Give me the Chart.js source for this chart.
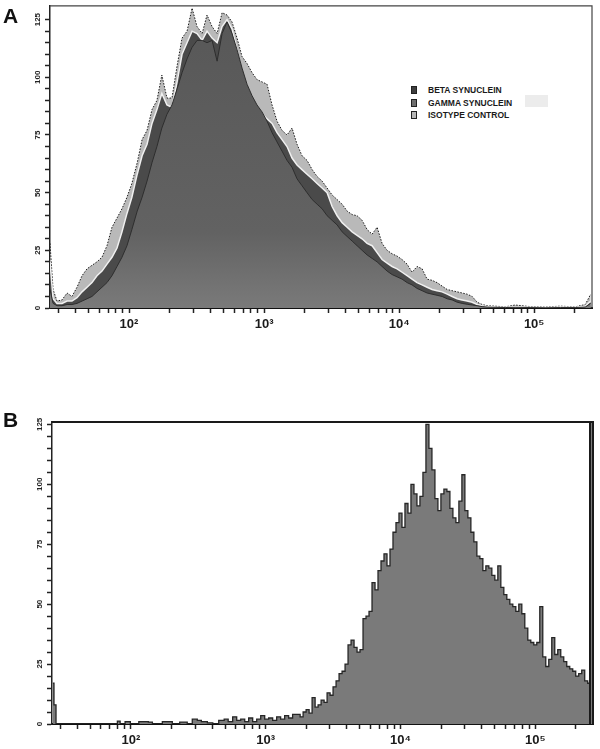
<!DOCTYPE html>
<html lang="en">
<head>
<meta charset="UTF-8">
<title>Synuclein flow cytometry histograms</title>
<style>
  body { margin: 0; background: #fff; font-family: Arial, 'Liberation Sans', sans-serif; }
  .figure { position: relative; width: 600px; height: 749px; overflow: hidden; }
  .figure canvas { position: absolute; left: 0; }
  .letter { position: absolute; left: 3px; font-size: 21px; font-weight: bold; color: #111; line-height: 1; }
  .legend { position: absolute; left: 408px; top: 84px; width: 115px; background: #fff; }
  .legend div { height: 12.5px; line-height: 12.5px; font-size: 8.5px; font-weight: bold; color: #1a1a1a; white-space: nowrap; }
  .legend span { display: inline-block; width: 6px; height: 8px; border: 1px solid #222; margin: 0 11px 0 3px; vertical-align: -1px; box-sizing: border-box; }
  .smudge { position: absolute; left: 525px; top: 95px; width: 23px; height: 12px; background: #ececec; }
</style>
</head>
<body>
<div class="figure">
  <canvas id="chartA" width="600" height="345" style="top:0"></canvas>
  <canvas id="chartB" width="600" height="369" style="top:380px"></canvas>
  <div class="letter" style="top:5px">A</div>
  <div class="letter" style="top:409px">B</div>
  <div class="smudge"></div>
  <div class="legend" id="legendA"></div>
</div>

<script src="https://cdn.jsdelivr.net/npm/chart.js"></script>
<script>
// ---- panel A: three overlaid histograms, shared log-spaced bins ----
const fluorA = [26.0, 27.4, 29.3, 31.9, 34.8, 37.8, 41.2, 44.9, 48.9, 53.2, 57.9, 63.1, 68.7, 74.8, 81.5, 88.7, 96.6,
  105, 115, 125, 136, 148, 161, 175, 191, 208, 227, 247, 269, 293, 319, 348, 378, 412, 449, 489, 532, 579, 631, 687,
  748, 815, 887, 966, 1052, 1146, 1247, 1358, 1479, 1611, 1754, 1910, 2080, 2270, 2470, 2690, 2930, 3190, 3475, 3785,
  4120, 4490, 4885, 5320, 5795, 6310, 6870, 7480, 8150, 8870, 9660, 10520, 11460, 12470, 13580, 14790, 16110, 17540,
  19100, 20800, 22700, 24700, 26900, 29300, 31900, 34750, 37840, 41210, 44870, 51400, 61000, 72300, 93300, 120500,
  156000, 201000, 239000, 262000];
const betaA = [8, 2, 1, 1, 1.5, 1.5, 2, 3, 4, 5, 7, 9, 11, 14, 18, 22, 27,
  34, 42, 48, 55, 63, 70, 78, 84, 88, 95, 102, 108, 113, 116, 116, 115, 116, 107, 119, 124, 119, 112, 104,
  97, 92, 88, 85, 81, 76, 72, 68, 64, 61, 56, 53, 50, 47, 45, 43, 40, 38, 36, 33,
  31, 29, 27, 25, 23, 21.5, 20, 18, 16, 14.5, 13.5, 12.5, 11, 10, 8.5, 7.5, 6.5, 6,
  5.5, 5, 4, 3.5, 2.5, 2, 1.6, 1.3, 1, 0.6, 0.4, 0.3, 0.2, 0.3, 0.2, 0.1,
  0.2, 0.2, 0.4, 2];
const gammaA = [20, 4, 2, 2, 3, 3, 4.5, 7, 9, 11, 14, 16, 19, 22, 26, 33, 41,
  48, 58, 66, 71, 80, 86, 93, 88, 87, 98, 110, 115, 120, 119, 116, 120, 117, 115, 122, 125, 121, 112, 102,
  96, 91, 87, 84, 82, 80, 76, 73, 70, 65, 62, 60, 58, 56, 54, 52, 50, 44, 40, 37,
  35, 33, 31.5, 30, 28, 27, 24, 21, 19.5, 18, 17, 15.5, 14, 12.5, 11, 10, 9, 8,
  7.5, 7, 6, 5, 4, 3.5, 3, 2.5, 1.5, 1, 0.6, 0.4, 0.3, 0.5, 0.3, 0.2,
  0.4, 0.3, 0.8, 3];
const isotypeA = [28, 8, 3, 3.5, 6.5, 5, 9, 14, 17, 18.5, 20, 22, 27, 35, 39, 43, 48,
  54, 63, 73, 77, 86, 90, 101, 91, 91, 105, 117, 120, 130, 122, 119, 127, 122, 119, 128, 127, 124, 117, 109,
  106, 102, 99, 98, 97, 88, 81, 77, 75, 78, 71, 66, 64, 60, 57, 55, 52, 49, 47, 45,
  42, 40.5, 40, 38, 34, 32, 35, 28, 25, 23.5, 22.5, 21, 19, 15.5, 18, 17, 12.5, 12,
  11, 9.5, 8, 7.5, 7, 6.5, 6, 5, 2.5, 1.5, 1, 0.8, 0.5, 1.3, 0.6, 0.4,
  0.8, 0.5, 1.5, 6];
const legendNames = ['BETA SYNUCLEIN', 'GAMMA SYNUCLEIN', 'ISOTYPE CONTROL'];

// ---- panel B: single histogram ----
const fluorB = [26.4, 27.4, 28.3, 77.4, 81.5, 85, 96.6, 101.7, 129, 141, 148, 198, 208, 255, 269, 303, 319, 348, 392, 419,
  480, 505, 550, 589, 631, 676, 723, 774, 829, 888, 951, 1017, 1089, 1166, 1248, 1336, 1431, 1531, 1640,
  1756, 1848, 1945, 2047, 2154, 2268, 2387, 2512, 2644, 2783, 2929, 3082, 3244, 3415, 3594, 3783, 3981, 4190, 4410,
  4642, 4885, 5142, 5412, 5696, 5995, 6310, 6641, 6990, 7356, 7743, 8149, 8577, 9027, 9501,
  10000, 10525, 11078, 11659, 12271, 12915, 13594, 14307, 15058, 15849, 16681, 17557, 18478, 19448, 20469, 21544,
  22675, 23865, 25119, 26438, 27826, 29286, 30824, 32442, 34145, 35938, 37825, 39811, 41900, 44101, 46416, 48853,
  51419, 54117, 56958, 59948, 63096, 66408, 69895, 73564, 77426, 81492, 85770, 90273, 95013,
  100000, 105250, 110780, 116590, 122710, 129150, 135940, 143070, 150580, 158490, 166810, 175570, 184780, 194480,
  204690, 215440, 226750, 238650, 251190, 257000, 268000];
const countsB = [17, 8, 0, 0, 1.2, 0, 1, 0, 1, 0.8, 0, 1, 0, 0.8, 0, 2, 1.5, 1, 0.5, 0,
  1.5, 2, 1, 3, 1.5, 2, 1, 2.5, 1, 2, 3.5, 2, 2.5, 1.5, 3, 2, 3.5, 2.5, 4,
  4, 3, 5, 6, 4.5, 11, 7, 8, 10, 9, 13, 12, 15.5, 18, 21, 22, 25, 33, 35,
  32, 30, 31, 44, 45, 47, 59, 56, 64, 68, 71, 66, 73, 80, 84,
  88, 82, 92, 88, 100, 96, 91, 95, 105, 125, 115, 106, 94, 89, 96,
  98, 97, 90, 86, 84, 93, 104, 89, 86, 80, 76, 70, 69, 64, 66, 65,
  62, 60, 66, 57, 54, 52, 50, 49, 47, 50, 46, 40, 35, 34, 33,
  34, 49, 28, 24, 27, 36, 29, 31, 28, 26, 24, 23, 22, 20,
  21, 22.5, 18, 17, 126, 126];

const decades = [100, 1000, 10000, 100000];
const decadeText = ['10²', '10³', '10⁴', '10⁵'];
const countTicks = [0, 25, 50, 75, 100, 125];

const pts = (xs, ys) => xs.map((x, i) => ({ x: x, y: ys[i] }));

// minor log ticks 1..9 per decade
function logTicks(scale) {
  const out = [];
  for (const d of [10, 100, 1000, 10000, 100000]) {
    for (let k = 1; k <= 9; k++) {
      const v = k * d;
      if (v >= scale.min && v <= scale.max) out.push({ value: v });
    }
  }
  scale.ticks = out;
}

// count axis: labelled every 25, minor mark every 5
function countAxisTicks(scale) {
  const out = [];
  for (let v = 0; v <= countTicks[countTicks.length - 1]; v += 5) out.push({ value: v });
  scale.ticks = out;
}

// top / right frame lines
const frame = {
  id: 'frame',
  afterDatasetsDraw(chart, args, opts) {
    const { ctx, chartArea: a } = chart;
    ctx.save();
    ctx.strokeStyle = opts.color;
    ctx.lineWidth = opts.width;
    ctx.beginPath();
    ctx.moveTo(a.left, a.top);
    ctx.lineTo(a.right, a.top);
    ctx.lineTo(a.right, a.bottom);
    ctx.stroke();
    if (opts.double) {
      ctx.beginPath();
      ctx.moveTo(a.right - 3, a.top);
      ctx.lineTo(a.right - 3, a.bottom);
      ctx.stroke();
    }
    ctx.restore();
  }
};

function scales(yMax, yWidth, xHeight) {
  return {
    x: {
      type: 'logarithmic', min: 26, max: 268000,
      afterBuildTicks: logTicks,
      afterFit: s => { s.height = xHeight; },
      grid: { drawOnChartArea: false, tickLength: 5, tickWidth: 1.5, tickColor: '#222' },
      border: { color: '#111', width: 2 },
      ticks: {
        autoSkip: false, maxRotation: 0, padding: 4, color: '#1a1a1a',
        font: { family: 'Arial, "Liberation Sans", sans-serif', size: 13, weight: 'bold' },
        callback: v => { const i = decades.indexOf(v); return i < 0 ? '' : decadeText[i]; }
      }
    },
    y: {
      min: 0, max: yMax,
      afterBuildTicks: countAxisTicks,
      afterFit: s => { s.width = yWidth; },
      grid: { drawOnChartArea: false, tickLength: 5, tickWidth: 1.5, tickColor: '#222' },
      border: { color: '#222', width: 1.5 },
      ticks: {
        autoSkip: false, minRotation: 90, maxRotation: 90, crossAlign: 'center', padding: 1,
        color: '#222', font: { family: 'Arial, "Liberation Sans", sans-serif', size: 8, weight: 'bold' },
        callback: v => (countTicks.includes(v) ? v : '')
      }
    }
  };
}

const common = {
  responsive: false,
  devicePixelRatio: 1,
  animation: false,
  elements: { point: { radius: 0 }, line: { tension: 0 } },
  plugins: { legend: { display: false }, tooltip: { enabled: false } }
};

// darker at the top of the main fill, lighter towards the baseline
function betaFill(ctx) {
  const area = ctx.chart.chartArea;
  if (!area) return '#606060';
  const g = ctx.chart.ctx.createLinearGradient(0, area.top, 0, area.bottom);
  g.addColorStop(0, '#575757');
  g.addColorStop(0.75, '#626262');
  g.addColorStop(1, '#7a7a7a');
  return g;
}

new Chart(document.getElementById('chartA'), {
  type: 'line',
  data: {
    datasets: [
      { label: legendNames[0], data: pts(fluorA, betaA), backgroundColor: betaFill, borderColor: '#2e2e2e', borderWidth: 1, fill: 'origin' },
      { label: legendNames[1], data: pts(fluorA, gammaA), backgroundColor: '#4a4a4a', borderColor: '#f0f0f0', borderWidth: 1.5, fill: 'origin' },
      { label: legendNames[2], data: pts(fluorA, isotypeA), backgroundColor: '#b9b9b9', borderColor: '#1c1c1c', borderWidth: 1, borderDash: [1.5, 1.5], fill: 'origin' }
    ]
  },
  options: {
    ...common,
    layout: { padding: { top: 5, right: 8, left: 0, bottom: 0 } },
    scales: scales(131, 50, 37),
    plugins: { ...common.plugins, frame: { color: '#444', width: 1.2 } }
  },
  plugins: [frame]
});

new Chart(document.getElementById('chartB'), {
  type: 'line',
  data: {
    datasets: [
      { data: pts(fluorB, countsB), backgroundColor: '#7a7a7a', borderColor: '#262626', borderWidth: 1.3, fill: 'origin', stepped: 'middle' }
    ]
  },
  options: {
    ...common,
    layout: { padding: { top: 42, right: 7, left: 0, bottom: 0 } },
    scales: scales(126, 52, 25),
    plugins: { ...common.plugins, frame: { color: '#1a1a1a', width: 2, double: true } }
  },
  plugins: [frame]
});

// legend for panel A
const swatches = ['#3e3e3e', '#6e6e6e', '#b7b7b7'];
document.getElementById('legendA').innerHTML = legendNames
  .map((n, i) => '<div><span style="background:' + swatches[i] + '"></span>' + n + '</div>')
  .join('');
</script>
</body>
</html>
